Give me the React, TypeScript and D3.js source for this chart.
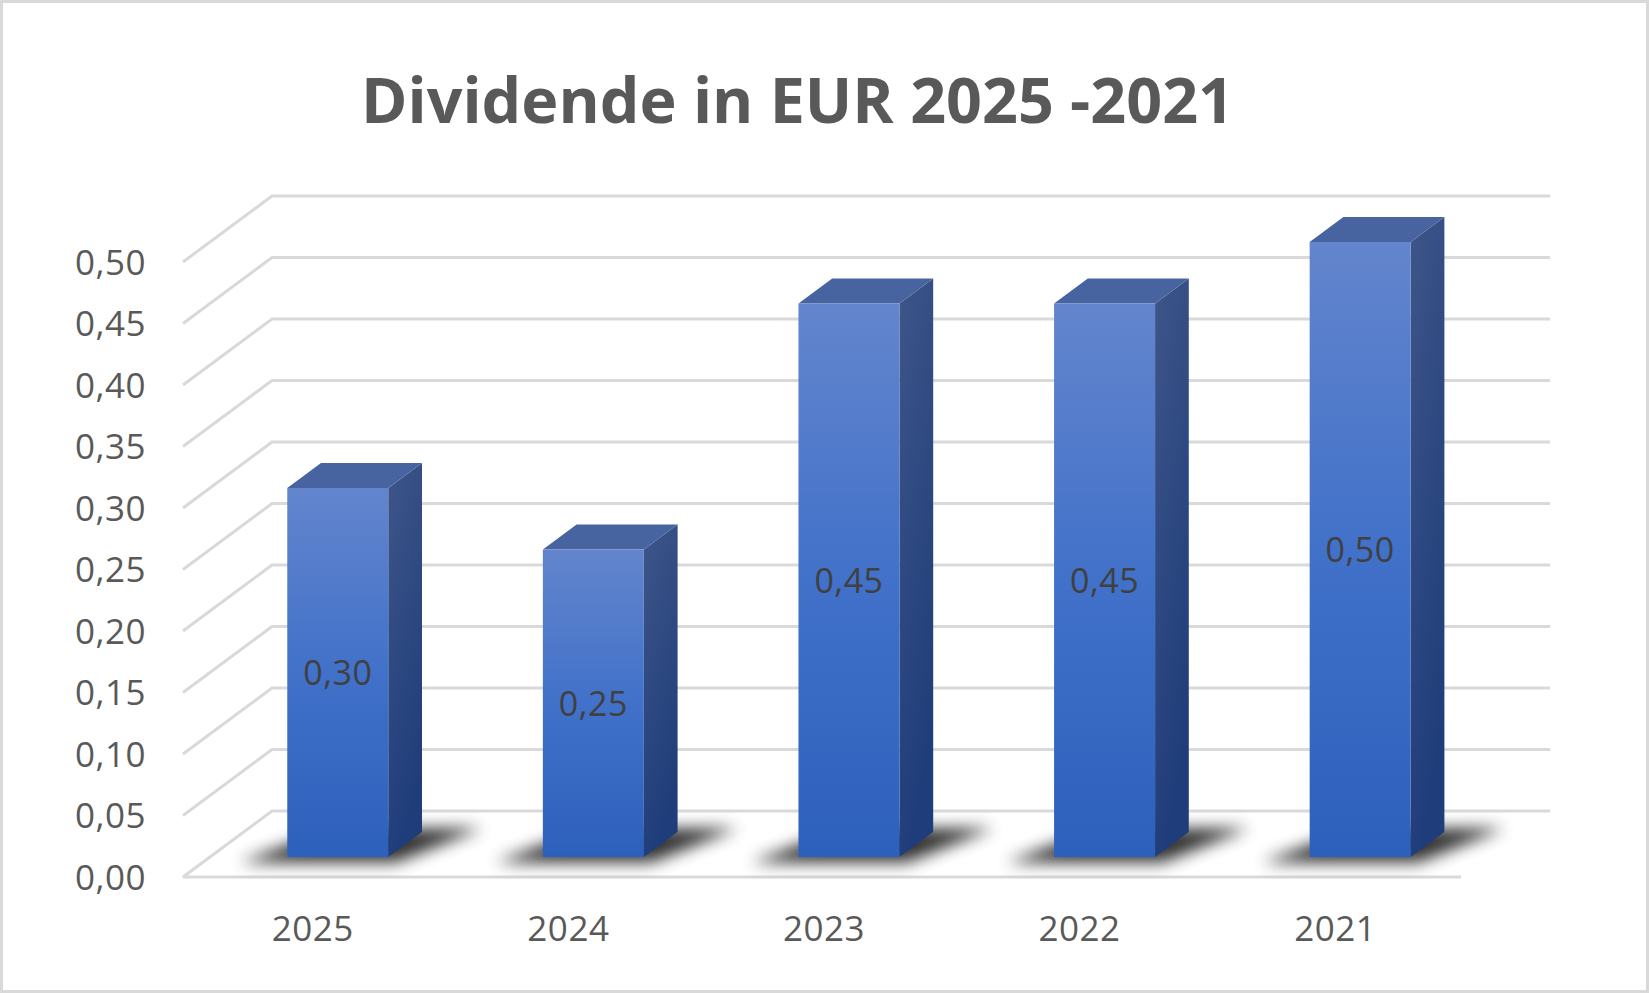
import React from 'react';
import * as d3 from 'd3';

const categories: string[] = ['2025', '2024', '2023', '2022', '2021'];
const values: number[] = [0.3, 0.25, 0.45, 0.45, 0.5];
const yTicks: number[] = [0, 0.05, 0.1, 0.15, 0.2, 0.25, 0.3, 0.35, 0.4, 0.45, 0.5];
const title = 'Dividende in EUR 2025 -2021';

const fmt = (v: number) => v.toFixed(2).replace('.', ',');

const W = 1649;
const H = 993;
const BACK_LEFT = 272;
const BACK_RIGHT = 1550;
const DX = -89;
const DY = 66;
const Z_FRONT = 0.697;
const Z_BACK = 0.318;
const BAR_W = 101;
const FONT = "'Open Sans', 'Noto Sans', sans-serif";

export default function App() {
  const y = d3.scaleLinear().domain([0, 0.5]).range([811, 196]);
  const x = d3.scaleBand<string>().domain(categories).range([BACK_LEFT, BACK_RIGHT]).padding(0);
  const proj = (xb: number, v: number, z: number): [number, number] => [xb + DX * z, y(v) + DY * z];
  const pts = (arr: [number, number][]) => arr.map((p) => p.join(',')).join(' ');
  const line = d3.line();

  return (
    <svg
      width={W}
      height={H}
      viewBox={`0 0 ${W} ${H}`}
      style={{ position: 'absolute', left: 0, top: 0, background: '#fff' }}
      fontFamily={FONT}
    >
      <defs>
        <linearGradient id="gFront" x1="0" y1="0" x2="0" y2="1">
          <stop offset="0" stopColor="#6385cd" />
          <stop offset="0.5" stopColor="#4171c9" />
          <stop offset="1" stopColor="#2d60bc" />
        </linearGradient>
        <linearGradient id="gSide" x1="0" y1="0" x2="0.3" y2="1">
          <stop offset="0" stopColor="#3e5689" />
          <stop offset="1" stopColor="#1f3d7a" />
        </linearGradient>
        <filter id="shadowBlur" x="-50%" y="-100%" width="200%" height="300%">
          <feGaussianBlur stdDeviation="8" />
        </filter>
      </defs>
      <rect x={0} y={0} width={W} height={H} fill="#fff" />
      <rect x={1.5} y={1.5} width={W - 3} height={H - 3} fill="none" stroke="#d9d9d9" strokeWidth={3} />

      {/* gridlines */}
      {yTicks.map((t) => (
        <path
          key={'g' + t}
          d={line([proj(BACK_LEFT, t, 1), proj(BACK_LEFT, t, 0), proj(BACK_RIGHT, t, 0)]) || ''}
          fill="none"
          stroke="#d9d9d9"
          strokeWidth={3}
        />
      ))}
      {/* floor front line */}
      <path
        d={line([proj(BACK_LEFT, 0, 1), proj(BACK_RIGHT, 0, 1)]) || ''}
        fill="none"
        stroke="#d9d9d9"
        strokeWidth={3}
      />

      {/* shadows */}
      {categories.map((c) => {
        const cx = (x(c) as number) + x.bandwidth() / 2;
        const l = cx - BAR_W / 2;
        const r = cx + BAR_W / 2;
        return (
          <polygon
            key={'s' + c}
            points={pts([
              proj(l - 40, 0, 0.78),
              proj(r + 15, 0, 0.78),
              proj(r + 55, 0, 0.26),
              proj(l + 5, 0, 0.26),
            ])}
            fill="#000"
            opacity={0.8}
            filter="url(#shadowBlur)"
          />
        );
      })}

      {/* bars */}
      {categories.map((c, i) => {
        const v = values[i];
        const cx = (x(c) as number) + x.bandwidth() / 2;
        const l = cx - BAR_W / 2;
        const r = cx + BAR_W / 2;
        const fl0 = proj(l, 0, Z_FRONT);
        const fr0 = proj(r, 0, Z_FRONT);
        const flt = proj(l, v, Z_FRONT);
        const frt = proj(r, v, Z_FRONT);
        const br0 = proj(r, 0, Z_BACK);
        const blt = proj(l, v, Z_BACK);
        const brt = proj(r, v, Z_BACK);
        return (
          <g key={'b' + c}>
            <polygon points={pts([fr0, frt, brt, br0])} fill="url(#gSide)" />
            <polygon points={pts([flt, frt, brt, blt])} fill="#4864a0" />
            <polygon points={pts([fl0, flt, frt, fr0])} fill="url(#gFront)" />
            <text
              x={(fl0[0] + fr0[0]) / 2}
              y={(fl0[1] + flt[1]) / 2 + 12.5}
              textAnchor="middle"
              fontSize={34}
              letterSpacing={0.5}
              fill="#404040"
            >
              {fmt(v)}
            </text>
          </g>
        );
      })}

      {/* y tick labels */}
      {yTicks.map((t) => (
        <text
          key={'t' + t}
          x={146}
          y={y(t) + DY + 12.5}
          textAnchor="end"
          fontSize={35}
          letterSpacing={0.5}
          fill="#595959"
        >
          {fmt(t)}
        </text>
      ))}

      {/* category labels */}
      {categories.map((c) => {
        const cx = (x(c) as number) + x.bandwidth() / 2;
        return (
          <text
            key={'c' + c}
            x={cx + DX + 2}
            y={941}
            textAnchor="middle"
            fontSize={35}
            letterSpacing={0.5}
            fill="#595959"
          >
            {c}
          </text>
        );
      })}

      <text
        x={361}
        y={123}
        fontSize={63}
        fontWeight="bold"
        fill="#595959"
        textLength={873}
        lengthAdjust="spacingAndGlyphs"
      >
        {title}
      </text>
    </svg>
  );
}
